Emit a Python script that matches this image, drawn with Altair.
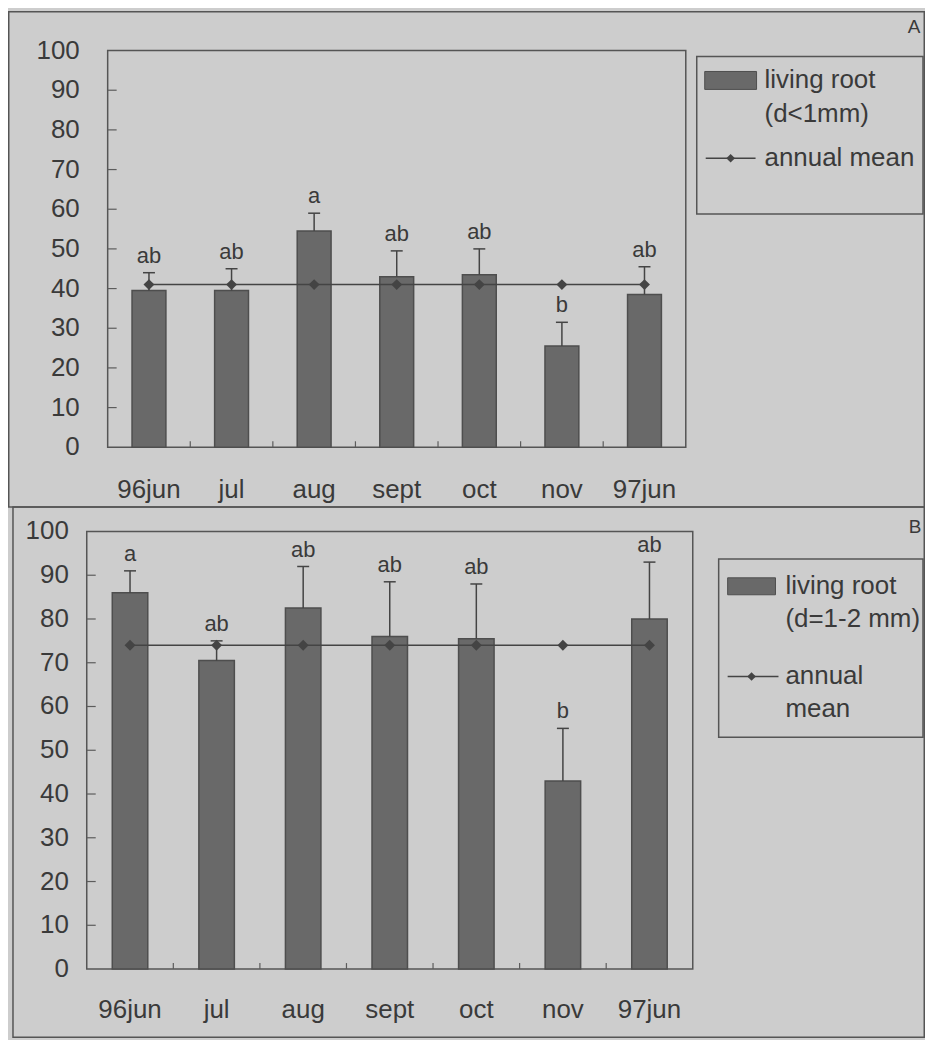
import altair as alt
import pandas as pd

# ---------------- data ----------------
months = ["96jun", "jul", "aug", "sept", "oct", "nov", "97jun"]

a_root = [39.5, 39.5, 54.5, 43.0, 43.5, 25.5, 38.5]
a_err = [44.0, 45.0, 59.0, 49.5, 50.0, 31.5, 45.5]
a_mean = 41.0
a_letters = ["ab", "ab", "a", "ab", "ab", "b", "ab"]

b_root = [86.0, 70.5, 82.5, 76.0, 75.5, 43.0, 80.0]
b_err = [91.0, 75.0, 92.0, 88.5, 88.0, 55.0, 93.0]
b_mean = 74.0
b_letters = ["a", "ab", "ab", "ab", "ab", "b", "ab"]

y_tick_values = list(range(0, 101, 10))
inner_y_ticks = list(range(10, 91, 10))

# ---------------- styling ----------------
FONT = "Liberation Sans"
TXT = "#3a3a3a"
LINE = "#444444"
BAR = "#696969"
BAR_EDGE = "#4e4e4e"
BG = "#cdcdcd"
FRAME = "#555555"
TICK = "#5c5c5c"

CHART_W = 920
CHART_H = 1032


def panel(values, errs, mean, letters, geo):
    df = pd.DataFrame({
        "month": months,
        "value": values,
        "err": errs,
        "mean": [mean] * len(months),
        "letter": letters,
    })
    px0, px1, py0, py1 = geo["plot"]
    step = (px1 - px0) / len(months)
    xscale = alt.Scale(domain=months, range=[px0, px1], paddingInner=0.59, paddingOuter=0.295)
    yscale = alt.Scale(domain=[0, 100], range=[py1, py0], nice=False, zero=True)

    def X(field="month:N"):
        return alt.X(field, scale=xscale, axis=None)

    def Y(field):
        return alt.Y(field, scale=yscale, axis=None)

    one = alt.Chart(pd.DataFrame({"k": [0]}))
    layers = []

    def box(x0, x1, y0, y1, width=1.5):
        return one.mark_rect(fillOpacity=0, stroke=FRAME, strokeWidth=width).encode(
            x=alt.value(x0), x2=alt.value(x1), y=alt.value(y0), y2=alt.value(y1))

    # outer frame and plot frame
    layers.append(box(*geo["frame"]))
    layers.append(box(px0, px1, py0, py1))

    # panel tag
    layers.append(one.mark_text(font=FONT, fontSize=19, color=TXT, align="center",
                                baseline="middle").encode(
        x=alt.value(geo["tag"][1]), y=alt.value(geo["tag"][2]), text=alt.value(geo["tag"][0])))

    # legend
    lg = geo["legend"]
    layers.append(box(*lg["box"]))
    layers.append(one.mark_rect(fill=BAR, stroke=BAR_EDGE, strokeWidth=1).encode(
        x=alt.value(lg["swatch"][0]), x2=alt.value(lg["swatch"][1]),
        y=alt.value(lg["swatch"][2]), y2=alt.value(lg["swatch"][3])))
    for txt, ty in lg["texts"]:
        layers.append(one.mark_text(font=FONT, fontSize=26, color=TXT, align="left",
                                    baseline="middle").encode(
            x=alt.value(lg["tx"]), y=alt.value(ty), text=alt.value(txt)))
    lx0, lx1, ly, ldx = lg["line"]
    layers.append(one.mark_rule(color=LINE, strokeWidth=1.5).encode(
        x=alt.value(lx0), x2=alt.value(lx1), y=alt.value(ly)))
    layers.append(one.mark_point(shape="diamond", filled=True, size=75, color=LINE, opacity=1).encode(
        x=alt.value(ldx), y=alt.value(ly)))

    # y tick labels (through the y scale)
    layers.append(alt.Chart(pd.DataFrame({"t": y_tick_values})).mark_text(
        font=FONT, fontSize=26, color=TXT, align="right", baseline="middle").encode(
        y=Y("t:Q"), x=alt.value(geo["ylab_x"]), text=alt.Text("t:Q", format="d")))
    # x tick labels (through the x scale)
    layers.append(alt.Chart(pd.DataFrame({"month": months})).mark_text(
        font=FONT, fontSize=26, color=TXT, align="center", baseline="alphabetic").encode(
        x=X(), y=alt.value(geo["xlab_y"]), text="month:N"))

    # inward ticks
    layers.append(alt.Chart(pd.DataFrame({"t": inner_y_ticks})).mark_rule(
        color=TICK, strokeWidth=1.2).encode(
        y=Y("t:Q"), x=alt.value(px0), x2=alt.value(px0 + 9)))
    layers.append(alt.Chart(pd.DataFrame({"month": months[1:]})).mark_rule(
        color=TICK, strokeWidth=1.2, xOffset=-step / 2).encode(
        x=X(), y=alt.value(py1), y2=alt.value(py1 - 6)))

    base = alt.Chart(df)
    layers.append(base.mark_bar(fill=BAR, stroke=BAR_EDGE, strokeWidth=1.5).encode(
        x=X(), y=Y("value:Q")))
    layers.append(base.mark_rule(color=LINE, strokeWidth=1.5).encode(
        x=X(), y=Y("value:Q"), y2="err:Q"))
    layers.append(base.mark_tick(color=LINE, thickness=1.5, size=12, opacity=1).encode(
        x=X(), y=Y("err:Q")))
    layers.append(base.mark_line(color=LINE, strokeWidth=1.5).encode(
        x=X(), y=Y("mean:Q")))
    layers.append(base.mark_point(shape="diamond", filled=True, size=120, color=LINE, opacity=1).encode(
        x=X(), y=Y("mean:Q")))
    layers.append(base.mark_text(font=FONT, fontSize=22, color=TXT, baseline="alphabetic",
                                 dy=-10).encode(
        x=X(), y=Y("err:Q"), text="letter:N"))

    return alt.layer(*layers)


geo_a = {
    "frame": (0.75, 919.25, 2, 499),
    "plot": (100, 680, 41, 439),
    "ylab_x": 72,
    "xlab_y": 490,
    "tag": ("A", 909, 17),
    "legend": {
        "box": (691, 918, 47, 205),
        "swatch": (699, 751, 62, 80),
        "tx": 759,
        "texts": [("living root", 71), ("(d<1mm)", 105), ("annual mean", 149)],
        "line": (700, 750, 149, 725),
    },
}

geo_b = {
    "frame": (5, 919.25, 499, 1031),
    "plot": (79, 687, 523.5, 962.5),
    "ylab_x": 61,
    "xlab_y": 1012,
    "tag": ("B", 910, 519),
    "legend": {
        "box": (713, 918, 551, 730),
        "swatch": (722, 770, 570, 587),
        "tx": 780,
        "texts": [("living root", 578), ("(d=1-2 mm)", 611), ("annual", 669), ("mean", 702)],
        "line": (722, 773, 669, 746),
    },
}

panel_a = panel(a_root, a_err, a_mean, a_letters, geo_a)
panel_b = panel(b_root, b_err, b_mean, b_letters, geo_b)

chart = alt.layer(panel_a, panel_b).resolve_scale(
    x="independent", y="independent"
).properties(
    width=CHART_W,
    height=CHART_H,
    padding=0,
    autosize=alt.AutoSizeParams(type="none"),
    background=BG,
).configure_view(stroke=None)

chart.save("out.html", embed_options={"renderer": "svg", "actions": False})
